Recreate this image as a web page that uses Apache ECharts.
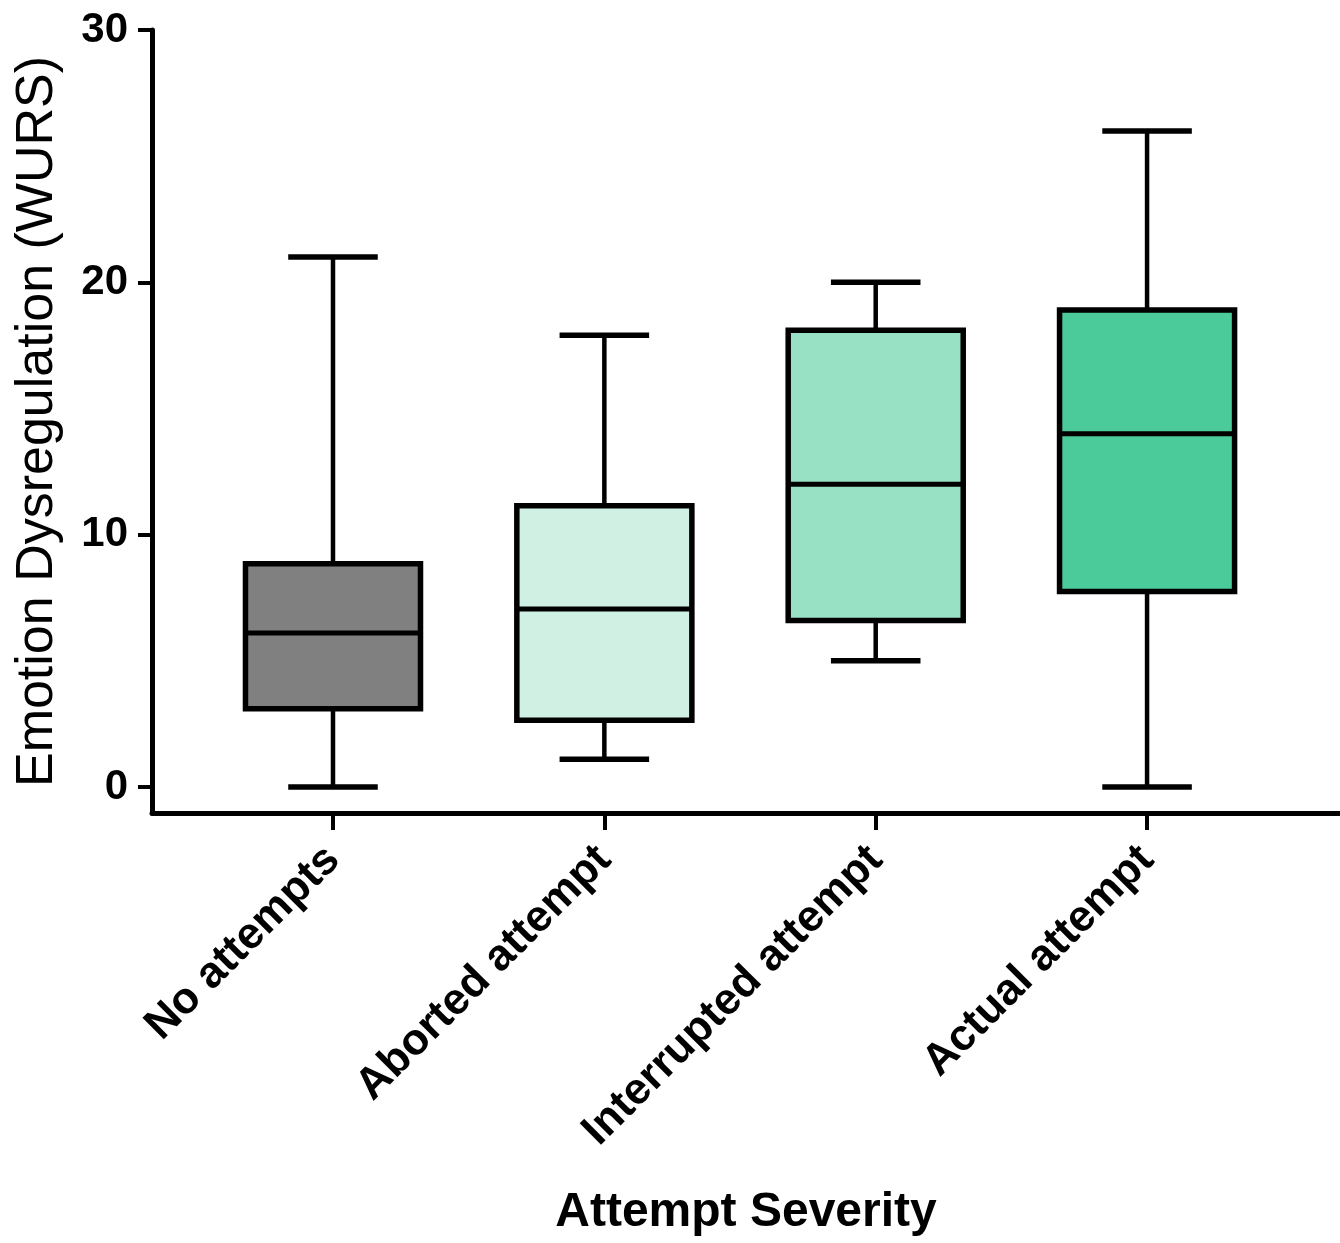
<!DOCTYPE html>
<html>
<head>
<meta charset="utf-8">
<script src="https://cdn.jsdelivr.net/npm/echarts@6/dist/echarts.min.js"></script>
<style>
  html, body { margin: 0; padding: 0; background: #fff; }
  #chart { width: 1340px; height: 1243px; }
</style>
</head>
<body>
<div id="chart"></div>
<script>
// ---- data ----
const categories = ['No attempts', 'Aborted attempt', 'Interrupted attempt', 'Actual attempt'];
const mins    = [0,    1.1,  5.0,  0];
const q1s     = [3.1,  2.65, 6.6,  7.75];
const medians = [6.1,  7.05, 12.0, 14.0];
const q3s     = [8.85, 11.15, 18.1, 18.9];
const maxs    = [21,   17.9, 20,   26];
const yTicks  = [0, 10, 20, 30];
const xTicks  = [0, 1, 2, 3];

// ---- styles ----
const fills = ['#808080', '#d0f0e4', '#99e1c5', '#4ccb9a'];
const FONT = 'Arial, "Liberation Sans", Helvetica, sans-serif';
const BOX_W = 0.645;
const CAP_W = 0.33;

const chart = echarts.init(document.getElementById('chart'), null, { renderer: 'canvas' });

const seriesData = categories.map((c, i) => [i, mins[i], q1s[i], medians[i], q3s[i], maxs[i]]);

chart.setOption({
  animation: false,
  backgroundColor: '#ffffff',
  grid: { left: 152, right: 0, top: 30, bottom: 430, containLabel: false },
  xAxis: {
    type: 'value',
    min: -0.667,
    max: 3.711,
    splitLine: { show: false },
    axisLine: { show: true, onZero: false, lineStyle: { color: '#000', width: 5 } },
    axisTick: { show: true, customValues: xTicks, length: 17, lineStyle: { color: '#000', width: 4 } },
    axisLabel: {
      show: true,
      customValues: xTicks,
      formatter: v => categories[Math.round(v)] || '',
      rotate: 45,
      margin: 40,
      color: '#000',
      fontFamily: FONT,
      fontWeight: 'bold',
      fontSize: 44
    },
    name: 'Attempt Severity',
    nameLocation: 'middle',
    nameGap: 376,
    nameTextStyle: { color: '#000', fontFamily: FONT, fontWeight: 'bold', fontSize: 48 }
  },
  yAxis: {
    type: 'value',
    min: -1.03,
    max: 30,
    splitLine: { show: false },
    axisLine: { show: true, onZero: false, lineStyle: { color: '#000', width: 5 } },
    axisTick: { show: true, customValues: yTicks, length: 14, lineStyle: { color: '#000', width: 4 } },
    axisLabel: {
      show: true,
      customValues: yTicks,
      margin: 24,
      color: '#000',
      fontFamily: FONT,
      fontWeight: 'bold',
      fontSize: 42
    },
    name: 'Emotion Dysregulation (WURS)',
    nameLocation: 'middle',
    nameGap: 88,
    nameTextStyle: { color: '#000', fontFamily: FONT, fontSize: 52 }
  },
  series: [{
    type: 'custom',
    data: seriesData,
    encode: { x: 0, y: [1, 2, 3, 4, 5] },
    renderItem: function (params, api) {
      const idx = api.value(0);
      const pMin = api.coord([idx, api.value(1)]);
      const pQ1 = api.coord([idx, api.value(2)]);
      const pMed = api.coord([idx, api.value(3)]);
      const pQ3 = api.coord([idx, api.value(4)]);
      const pMax = api.coord([idx, api.value(5)]);
      const half = api.size([BOX_W, 0])[0] / 2;
      const capHalf = api.size([CAP_W, 0])[0] / 2;
      const cx = pMed[0];
      const stroke = { stroke: '#000', lineWidth: 4.5, fill: null };
      return {
        type: 'group',
        children: [
          { type: 'line', shape: { x1: cx, y1: pMax[1], x2: cx, y2: pQ3[1] }, style: stroke },
          { type: 'line', shape: { x1: cx, y1: pQ1[1], x2: cx, y2: pMin[1] }, style: stroke },
          { type: 'line', shape: { x1: cx - capHalf, y1: pMax[1], x2: cx + capHalf, y2: pMax[1] }, style: { stroke: '#000', lineWidth: 5.5 } },
          { type: 'line', shape: { x1: cx - capHalf, y1: pMin[1], x2: cx + capHalf, y2: pMin[1] }, style: { stroke: '#000', lineWidth: 5.5 } },
          { type: 'rect', shape: { x: cx - half, y: pQ3[1], width: half * 2, height: pQ1[1] - pQ3[1] },
            style: { fill: fills[params.dataIndex], stroke: '#000', lineWidth: 5.5 } },
          { type: 'line', shape: { x1: cx - half, y1: pMed[1], x2: cx + half, y2: pMed[1] }, style: { stroke: '#000', lineWidth: 5 } }
        ]
      };
    }
  }]
});
</script>
</body>
</html>
